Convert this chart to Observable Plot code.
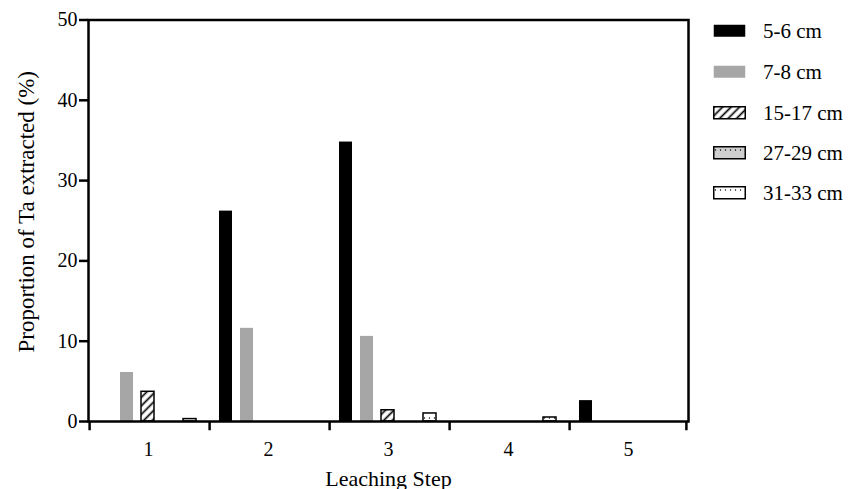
<!DOCTYPE html>
<html>
<head>
<meta charset="utf-8">
<script src="https://cdn.jsdelivr.net/npm/d3@7"></script>
<script src="https://cdn.jsdelivr.net/npm/@observablehq/plot@0.6"></script>
<style>
  html, body { margin: 0; padding: 0; background: #fff; }
  #wrap { position: relative; width: 861px; height: 489px; overflow: hidden; font-family: "Liberation Serif", "Times New Roman", serif; }
  #legend { position: absolute; left: 713px; top: 0; }
  .item { position: absolute; left: 0; width: 150px; height: 24px; display: flex; align-items: center; white-space: nowrap; }
  .item svg { margin-right: 17px; }
  .item span { font-size: 21px; color: #000; }
</style>
</head>
<body>
<svg width="0" height="0" style="position:absolute">
  <defs>
    <pattern id="hatch" patternUnits="userSpaceOnUse" width="6" height="6" patternTransform="rotate(45)">
      <rect width="6" height="6" fill="#fff"></rect>
      <line x1="1.5" y1="0" x2="1.5" y2="6" stroke="#000" stroke-width="1.7"></line>
    </pattern>
    <pattern id="dotGrey" patternUnits="userSpaceOnUse" width="5" height="9">
      <rect width="5" height="9" fill="#cfcfcf"></rect>
      <circle cx="2.5" cy="4" r="0.7" fill="#000"></circle>
    </pattern>
    <pattern id="dotWhite" patternUnits="userSpaceOnUse" width="5" height="9">
      <rect width="5" height="9" fill="#fff"></rect>
      <circle cx="2.5" cy="4" r="0.7" fill="#000"></circle>
    </pattern>
  </defs>
</svg>
<div id="wrap"><div id="legend"></div></div>
<script>
// ---- data ----
const steps = [1, 2, 3, 4, 5];
const series = ["5-6 cm", "7-8 cm", "15-17 cm", "27-29 cm", "31-33 cm"];
const v_5_6   = [0.0, 26.2, 34.8, 0.0, 2.6];
const v_7_8   = [6.1, 11.6, 10.6, 0.0, 0.0];
const v_15_17 = [3.7, 0.0, 1.4, 0.0, 0.0];
const v_27_29 = [0.0, 0.0, 0.0, 0.0, 0.0];
const v_31_33 = [0.3, 0.0, 1.0, 0.5, 0.0];
const yTicks = [0, 10, 20, 30, 40, 50];
const seriesFills = ["#000000", "#a6a6a6", "url(#hatch)", "url(#dotGrey)", "url(#dotWhite)"];
const seriesStroked = [false, false, true, true, true];

const valuesBySeries = [v_5_6, v_7_8, v_15_17, v_27_29, v_31_33];
const rows = [];
series.forEach((s, i) => steps.forEach((st, j) => rows.push({step: st, series: s, value: valuesBySeries[i][j], stroked: seriesStroked[i]})));
const shown = rows.filter(d => d.value > 0);

// ---- layout ----
const width = 861, height = 489;
const mL = 86, mR = 171, mT = 19.5, mB = 68;
const pIn = 0.36, pOut = 0.425;
const facetW = (width - mL - mR) / steps.length;
const bandStep = facetW / (series.length - pIn + 2 * pOut);
const edgeOffset = bandStep * (pOut + (1 - pIn) / 2);

const chart = Plot.plot({
  width, height,
  marginLeft: mL, marginRight: mR, marginTop: mT, marginBottom: mB,
  style: {fontFamily: "Liberation Serif, Times New Roman, serif", fontSize: "20px", color: "#000", background: "#fff"},
  fx: {domain: steps, padding: 0, tickSize: 0, tickPadding: 20, label: null},
  x: {domain: series, paddingInner: pIn, paddingOuter: pOut, axis: null},
  y: {domain: [0, 50], axis: null},
  color: {domain: series, range: seriesFills},
  marks: [
    Plot.barY(shown.filter(d => !d.stroked), {fx: "step", x: "series", y: "value", fill: "series"}),
    Plot.barY(shown.filter(d => d.stroked), {fx: "step", x: "series", y: "value", fill: "series", stroke: "#000", strokeWidth: 1.5}),
    Plot.frame({facet: "super", stroke: "#000", strokeWidth: 2.5}),
    Plot.axisY({ticks: yTicks, tickSize: 9, tickPadding: 2, strokeWidth: 2.5, fontSize: 20, label: null}),
    Plot.ruleX(steps, {fx: d => d, x: () => series[0], y1: 0, y2: -1.15, dx: -edgeOffset, stroke: "#000", strokeWidth: 2.5}),
    Plot.ruleX([steps[steps.length - 1]], {fx: d => d, x: () => series[series.length - 1], y1: 0, y2: -1.15, dx: edgeOffset, stroke: "#000", strokeWidth: 2.5}),
    Plot.text(["Leaching Step"], {facet: "super", frameAnchor: "bottom", textAnchor: "middle", dy: 64, lineAnchor: "bottom", fontSize: 22, fill: "#000"}),
    Plot.text(["Proportion of Ta extracted (%)"], {facet: "super", frameAnchor: "left", textAnchor: "middle", lineAnchor: "middle", dx: -62, dy: -9, rotate: -90, fontSize: 23, fill: "#000"})
  ]
});
document.getElementById("wrap").prepend(chart);

// ---- legend ----
const legend = document.getElementById("legend");
const legendTops = [19, 60, 101, 141, 181];
series.forEach((s, i) => {
  const item = document.createElement("div");
  item.className = "item";
  item.style.top = legendTops[i] + "px";
  const sw = d3.create("svg").attr("width", 33).attr("height", 14);
  sw.append("rect").attr("x", 0.75).attr("y", 0.75).attr("width", 31.5).attr("height", 12)
    .attr("fill", seriesFills[i])
    .attr("stroke", seriesStroked[i] ? "#000" : "none")
    .attr("stroke-width", seriesStroked[i] ? 1.5 : 0);
  item.appendChild(sw.node());
  const label = document.createElement("span");
  label.textContent = s;
  item.appendChild(label);
  legend.appendChild(item);
});
</script>
</body>
</html>
